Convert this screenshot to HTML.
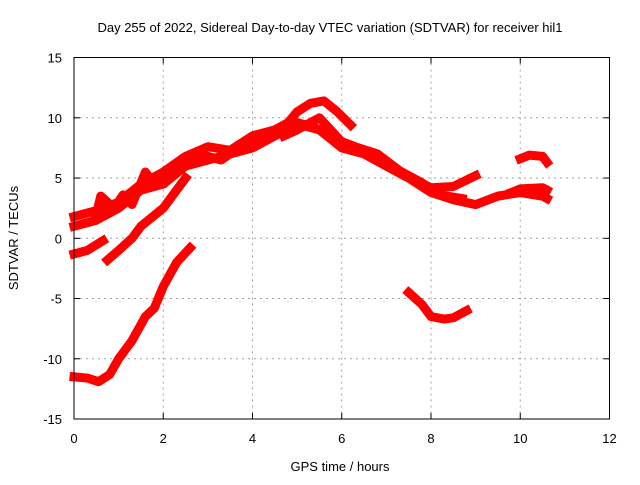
<!DOCTYPE html>
<html><head><meta charset="utf-8"><style>
body{margin:0;background:#fff;}
svg text{font-family:"Liberation Sans",sans-serif;font-size:13px;fill:#000;}
</style></head><body>
<svg id="chart" width="640" height="480" xmlns="http://www.w3.org/2000/svg">
<rect width="640" height="480" fill="#fff"/>
<g id="grid"></g>
<g id="series"></g>
<rect x="74" y="57.5" width="535.5" height="361.5" fill="none" stroke="#000" stroke-width="1"/>
<g id="ticks"></g>
<text x="330" y="32" text-anchor="middle" font-size="14">Day 255 of 2022, Sidereal Day-to-day VTEC variation (SDTVAR) for receiver hil1</text>
<text x="340" y="471" text-anchor="middle">GPS time / hours</text>
<text x="18" y="238" text-anchor="middle" transform="rotate(-90 18 238)">SDTVAR / TECUs</text>
</svg>
<script>
const xTicks=[0,2,4,6,8,10,12];
const yTicks=[-15,-10,-5,0,5,10,15];
const traceA=[[0,1.8],[0.5,2.3],[1,3],[1.5,4.5],[2,5.5],[2.5,6.8],[3,7.6],[3.5,7.3],[4,8.5],[4.5,9],[4.8,9.6],[5,10.5],[5.3,11.2],[5.6,11.4],[5.9,10.5],[6.2,9.4]];
const traceB=[[0,1],[0.5,1.5],[1,2.5],[1.5,4],[2,4.5],[2.5,6],[3,6.5],[3.5,7],[4,7.5],[4.5,8.5],[5,9.5],[5.5,9],[6,7.5],[6.5,7],[7,6],[7.5,5],[8,3.8],[8.5,3.2],[9,2.8],[9.5,3.5],[10,3.8],[10.5,3.5],[10.6,3.3]];
const traceC=[[4.7,8.5],[5,9],[5.5,10],[6,8],[6.5,7],[7,6],[7.5,5],[8,4.2],[8.5,4.3],[9,5.2]];
const traceK=[[2.2,5.5],[2.8,7],[3.3,6.5],[3.8,7.8],[4.3,8.6],[5,9.6],[5.4,9.2],[5.8,8.3],[6.3,7.6],[6.8,7],[7.3,5.6],[7.8,4.6],[8.2,3.6],[8.7,3.3]];
const traceD=[[10,6.6],[10.2,6.9],[10.5,6.8],[10.6,6.3]];
const traceE=[[9.8,3.8],[10,4.1],[10.5,4.2],[10.6,4]];
const traceF=[[0,-1.3],[0.3,-1],[0.65,-0.2]];
const traceG=[[0.75,-1.8],[1,-1],[1.3,0],[1.5,1],[2,2.5],[2.3,4],[2.5,5]];
const traceH=[[0,-11.5],[0.3,-11.6],[0.55,-11.9],[0.8,-11.3],[1,-10],[1.3,-8.5],[1.6,-6.5],[1.8,-5.8],[2,-4],[2.3,-2],[2.6,-0.8]];
const traceI=[[7.5,-4.5],[7.8,-5.5],[8,-6.5],[8.3,-6.7],[8.5,-6.6],[8.8,-6]];
const traceJ=[[0.5,2],[0.6,3.5],[0.9,2.5],[1.1,3.6],[1.3,2.8],[1.6,5.5],[1.8,4.5],[2.1,5.6]];
const traces=[traceA,traceB,traceC,traceK,traceD,traceE,traceF,traceG,traceH,traceI,traceJ];
const NS="http://www.w3.org/2000/svg";
const X=v=>74+v*(535.5/12);
const Y=v=>238.3-v*(361.5/30);
const grid=document.getElementById('grid'),ticks=document.getElementById('ticks'),ser=document.getElementById('series');
function ln(g,x1,y1,x2,y2,st,dash){const l=document.createElementNS(NS,'line');
 l.setAttribute('x1',x1);l.setAttribute('x2',x2);l.setAttribute('y1',y1);l.setAttribute('y2',y2);
 l.setAttribute('stroke',st);if(dash)l.setAttribute('stroke-dasharray',dash);g.appendChild(l);return l;}
xTicks.forEach(t=>{
 if(t>0&&t<12){const l=ln(grid,X(t),57.5,X(t),419,'#a0a0a0','2,4');
 
 
 ln(ticks,X(t),419,X(t),413,'#000');ln(ticks,X(t),57.5,X(t),63.5,'#000');}
 const tx=document.createElementNS(NS,'text');
 tx.setAttribute('x',X(t));tx.setAttribute('y',443);tx.setAttribute('text-anchor','middle');tx.textContent=t;
 
 
 ticks.appendChild(tx);
});
yTicks.forEach(t=>{
 if(t>-15&&t<15){const l=ln(grid,74,Y(t),609.5,Y(t),'#a0a0a0','2,4');
 
 
 ln(ticks,74,Y(t),80,Y(t),'#000');ln(ticks,603.5,Y(t),609.5,Y(t),'#000');}
 const tx=document.createElementNS(NS,'text');
 tx.setAttribute('x',62);tx.setAttribute('y',Y(t)+5);tx.setAttribute('text-anchor','end');tx.textContent=t;
 
 
 ticks.appendChild(tx);
});
traces.forEach(tr=>{
 const p=document.createElementNS(NS,'polyline');
 p.setAttribute('points',tr.map(d=>X(d[0])+','+Y(d[1])).join(' '));
 p.setAttribute('fill','none');p.setAttribute('stroke','#ff0000');p.setAttribute('stroke-width','9');
 p.setAttribute('stroke-linejoin','round');p.setAttribute('stroke-linecap','square');
 
 
 ser.appendChild(p);
});
</script>
</body></html>
